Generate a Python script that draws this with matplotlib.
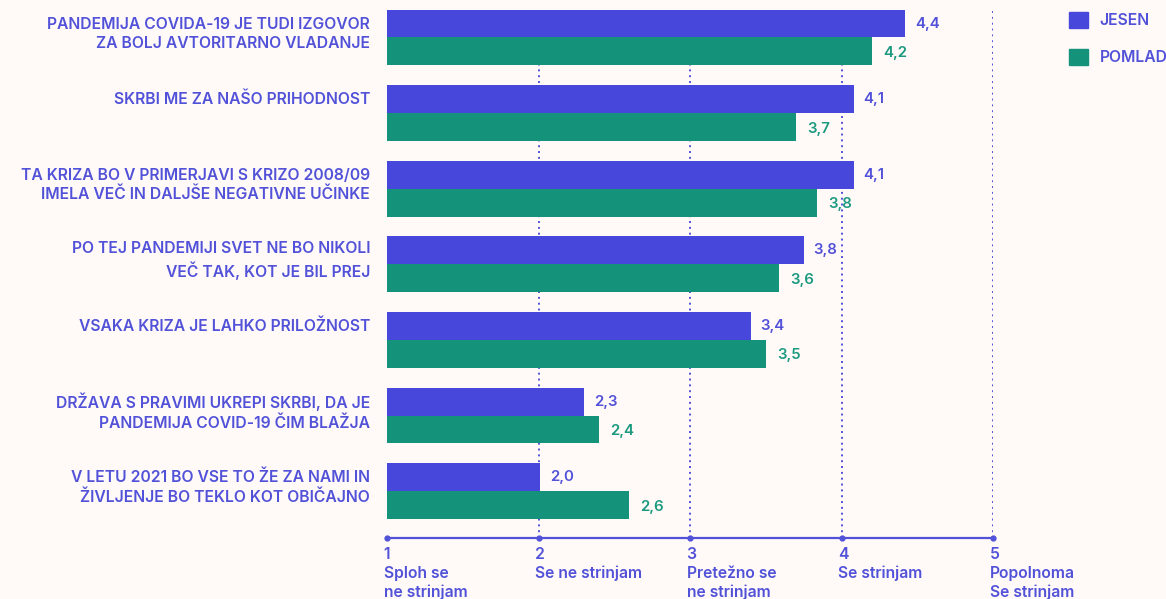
import matplotlib.pyplot as plt
import numpy as np
from matplotlib.patches import Patch

categories = [
    'PANDEMIJA COVIDA-19 JE TUDI IZGOVOR\nZA BOLJ AVTORITARNO VLADANJE',
    'SKRBI ME ZA NAŠO PRIHODNOST',
    'TA KRIZA BO V PRIMERJAVI S KRIZO 2008/09\nIMELA VEČ IN DALJŠE NEGATIVNE UČINKE',
    'PO TEJ PANDEMIJI SVET NE BO NIKOLI\nVEČ TAK, KOT JE BIL PREJ',
    'VSAKA KRIZA JE LAHKO PRILOŽNOST',
    'DRŽAVA S PRAVIMI UKREPI SKRBI, DA JE\nPANDEMIJA COVID-19 ČIM BLAŽJA',
    'V LETU 2021 BO VSE TO ŽE ZA NAMI IN\nŽIVLJENJE BO TEKLO KOT OBIČAJNO',
]
jesen = [4.42, 4.08, 4.08, 3.75, 3.40, 2.30, 2.01]
pomlad = [4.20, 3.70, 3.84, 3.59, 3.50, 2.40, 2.60]
tick_values = [1, 2, 3, 4, 5]
tick_texts = ['Sploh se\nne strinjam', 'Se ne strinjam', 'Pretežno se\nne strinjam',
              'Se strinjam', 'Popolnoma\nSe strinjam']

BG = '#fffaf8'
BLUE = '#4747dc'
TEAL = '#14937a'
TXT = '#5252d9'
TXT_TEAL = '#1c9a80'

plt.rcParams['font.family'] = ['Inter', 'DejaVu Sans']
FS = 11.3

fig = plt.figure(figsize=(11.66, 5.99), dpi=100, facecolor=BG)
ax = fig.add_axes([387 / 1166, 61 / 599, 606 / 1166, 538 / 599])
ax.set_facecolor('none')

y = np.arange(len(categories))
h = 0.37
ax.set_xlim(1, 5)
ax.set_ylim(6.62, -0.496)

# dotted gridlines behind the bars
for xv in tick_values[1:]:
    ax.plot([xv, xv], [6.62, -0.39], color=TXT, lw=1.4, ls=(0, (1, 2)),
            dash_capstyle='butt', zorder=0)

ax.barh(y - h / 2, [v - 1 for v in jesen], left=1, height=h, color=BLUE, zorder=2)
ax.barh(y + h / 2, [v - 1 for v in pomlad], left=1, height=h, color=TEAL, zorder=2)

px = 4 / 606  # data units per pixel along x
for i in range(len(categories)):
    ax.text(jesen[i] + 10 * px, y[i] - h / 2, f'{jesen[i]:.1f}'.replace('.', ','),
            color=TXT, fontsize=10.8, fontweight='semibold', va='center', ha='left')
    ax.text(pomlad[i] + 11 * px, y[i] + h / 2 + 0.02, f'{pomlad[i]:.1f}'.replace('.', ','),
            color=TXT_TEAL, fontsize=10.8, fontweight='semibold', va='center', ha='left')
    nl = categories[i].count('\n')
    ax.text(1 - 17 * px, y[i] - h / 2 + nl * 0.135, categories[i], color=TXT,
            fontsize=FS, fontweight='semibold', ha='right', va='center',
            linespacing=1.3, clip_on=False)

# bottom axis line with dots
ax.plot([1, 5], [6.62, 6.62], color=TXT, lw=1.6, clip_on=False, zorder=3)
ax.plot(tick_values, [6.62] * 5, 'o', color=TXT, ms=3.5, clip_on=False, zorder=3)
for tv, tt in zip(tick_values, tick_texts):
    ax.annotate(f'{tv}\n{tt}', xy=(tv, 6.62), xytext=(-2.5, -6.5), textcoords='offset points',
                ha='left', va='top', color=TXT, fontsize=FS, fontweight='semibold',
                linespacing=1.3, annotation_clip=False)

ax.axis('off')

# legend
handles = [Patch(color=BLUE, label='JESEN'), Patch(color=TEAL, label='POMLAD')]
leg = fig.legend(handles=handles, loc='upper left', bbox_to_anchor=(1055 / 1166, 1 + 2 / 599),
                 frameon=False, fontsize=FS, handlelength=1.2, handleheight=1.2,
                 handletextpad=0.75, labelspacing=1.3, borderpad=0.4)
for t in leg.get_texts():
    t.set_color(TXT)
    t.set_fontweight('semibold')

fig.savefig('out.png', dpi=100, facecolor=BG)
